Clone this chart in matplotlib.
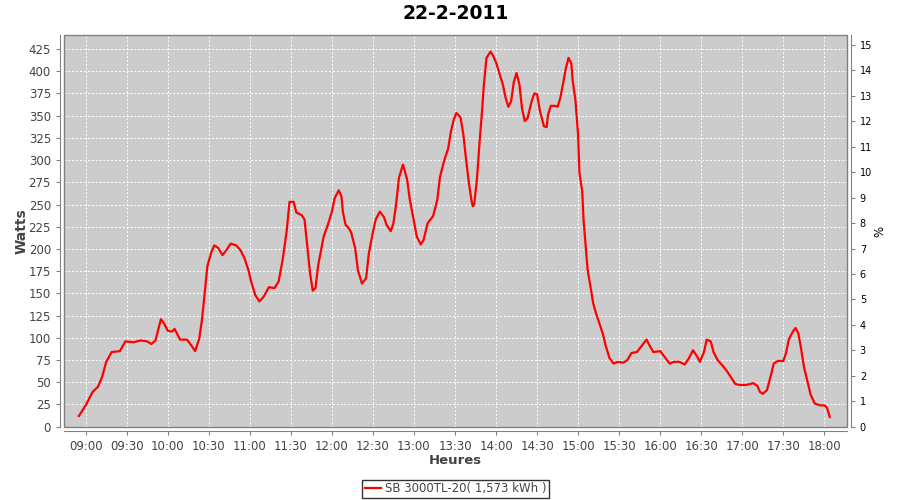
import pandas as pd
import matplotlib
matplotlib.use('Agg')
import matplotlib.pyplot as plt
import matplotlib.dates as mdates
from matplotlib.patches import Rectangle

# production readings for the day
day = '2011-02-22'
times = [
    '08:55', '09:00', '09:05', '09:09', '09:12', '09:15', '09:19', '09:25',
    '09:29', '09:35', '09:40', '09:45', '09:48', '09:51', '09:53', '09:55',
    '09:57', '10:00', '10:03', '10:05', '10:09', '10:14', '10:17', '10:20',
    '10:23', '10:25', '10:27', '10:29', '10:32', '10:34', '10:37', '10:40',
    '10:43', '10:46', '10:50', '10:53', '10:56', '10:59', '11:01', '11:04',
    '11:07', '11:10', '11:14', '11:18', '11:21', '11:24', '11:27', '11:29',
    '11:32', '11:34', '11:38', '11:40', '11:42', '11:44', '11:46', '11:48',
    '11:50', '11:54', '11:57', '12:00', '12:02', '12:05', '12:07', '12:08',
    '12:10', '12:12', '12:14', '12:17', '12:19', '12:22', '12:25', '12:27',
    '12:30', '12:32', '12:35', '12:38', '12:40', '12:43', '12:45', '12:47',
    '12:49', '12:52', '12:55', '12:57', '13:00', '13:02', '13:05', '13:07',
    '13:10', '13:14', '13:17', '13:19', '13:22', '13:25', '13:27', '13:29',
    '13:31', '13:34', '13:36', '13:38', '13:40', '13:42', '13:43', '13:44',
    '13:46', '13:48', '13:50', '13:51', '13:53', '13:56', '13:58', '14:00',
    '14:02', '14:05', '14:07', '14:09', '14:11', '14:13', '14:15', '14:17',
    '14:19', '14:21', '14:23', '14:26', '14:28', '14:30', '14:32', '14:35',
    '14:37', '14:38', '14:40', '14:43', '14:45', '14:47', '14:49', '14:51',
    '14:53', '14:55', '14:56', '14:58', '15:00', '15:01', '15:03', '15:04',
    '15:06', '15:07', '15:09', '15:11', '15:13', '15:16', '15:18', '15:20',
    '15:23', '15:26', '15:29', '15:33', '15:36', '15:39', '15:43', '15:46',
    '15:50', '15:52', '15:55', '16:00', '16:04', '16:07', '16:10', '16:14',
    '16:18', '16:21', '16:24', '16:27', '16:29', '16:32', '16:34', '16:37',
    '16:39', '16:42', '16:46', '16:49', '16:52', '16:55', '16:58', '17:03',
    '17:08', '17:11', '17:13', '17:15', '17:18', '17:21', '17:23', '17:26',
    '17:30', '17:32', '17:34', '17:37', '17:39', '17:41', '17:43', '17:45',
    '17:48', '17:50', '17:53', '17:57', '18:00', '18:02', '18:04',
]
watts = [
    12, 24, 39, 45, 56, 73, 84, 85,
    96, 95, 97, 96, 93, 97, 109, 121,
    117, 108, 107, 110, 98, 98, 92, 85,
    99, 120, 150, 181, 197, 204, 201, 193,
    199, 206, 204, 199, 190, 176, 163, 148,
    141, 146, 157, 156, 163, 188, 221, 253,
    253, 241, 238, 233, 203, 173, 153, 156,
    182, 214, 227, 242, 257, 266, 259, 242,
    227, 224, 219, 201, 176, 161, 167, 195,
    219, 233, 242, 236, 227, 220, 229, 251,
    280, 295, 278, 255, 231, 214, 205, 210,
    229, 237, 255, 281, 299, 313, 332, 345,
    353, 348, 330, 302, 276, 255, 248, 250,
    278, 321, 360, 383, 415, 422, 417, 410,
    400, 385, 370, 360, 366, 388, 398, 386,
    358, 344, 347, 366, 375, 374, 356, 338,
    337, 351, 361, 361, 360, 370, 386, 403,
    415, 409, 390, 368, 328, 285, 265, 232,
    195, 176, 158, 139, 128, 114, 105, 92,
    77, 71, 73, 72, 75, 83, 84, 90,
    98, 92, 84, 85, 77, 71, 73, 73,
    70, 77, 86, 79, 73, 84, 98, 96,
    84, 75, 68, 62, 55, 48, 47, 47,
    49, 46, 39, 37, 41, 58, 71, 74,
    74, 83, 98, 107, 111, 105, 88, 68,
    49, 36, 26, 24, 24, 21, 11,
]
title = '22-2-2011'
series_label = 'SB 3000TL-20( 1,573 kWh )'
watt_ticks = list(range(0, 426, 25))
pct_ticks = list(range(0, 16))

GRAY = '#444444'
EDGE = '#808080'
OFFSET = 2.9  # points, the gap between plot area and axis lines


def main():
    stamps = pd.to_datetime([f'{day} {t}' for t in times])

    fig = plt.figure(figsize=(9, 5), dpi=100)
    ax = fig.add_axes([0.0711, 0.1466, 0.8697, 0.7828])
    ax.set_facecolor('#cccccc')

    ax.plot(stamps, watts, color='#ff0000', linewidth=1.6,
            solid_joinstyle='round', label=series_label, zorder=3)

    ax.set_xlim(pd.Timestamp(f'{day} 08:44:08'),
                pd.Timestamp(f'{day} 18:16:22'))
    ax.set_ylim(0, 440.4)
    ax.set_yticks(watt_ticks)
    ax.xaxis.set_major_locator(mdates.MinuteLocator(byminute=[0, 30]))
    ax.xaxis.set_major_formatter(mdates.DateFormatter('%H:%M'))

    ax.grid(True, color='white', linestyle=(0, (2, 2)), linewidth=0.7)
    ax.set_axisbelow(True)

    for side in ('left', 'bottom'):
        ax.spines[side].set_position(('outward', OFFSET))
        ax.spines[side].set_color(EDGE)
    ax.spines['top'].set_visible(False)
    ax.spines['right'].set_visible(False)
    ax.add_patch(Rectangle((0, 0), 1, 1, transform=ax.transAxes, fill=False,
                           edgecolor=EDGE, linewidth=1.0, zorder=4,
                           clip_on=False))

    ax.tick_params(axis='both', colors=EDGE, labelcolor=GRAY, labelsize=8.5,
                   length=3, width=0.8)
    ax.set_ylabel('Watts', fontsize=10, fontweight='bold', color=GRAY,
                  labelpad=0)
    ax.set_xlabel('Heures', fontsize=9.5, fontweight='bold', color=GRAY,
                  labelpad=1)
    ax.set_title(title, fontsize=13.5, fontweight='bold', pad=12)

    ax2 = ax.twinx()
    ax2.set_ylim(0, 15.38)
    ax2.set_yticks(pct_ticks)
    for side in ('left', 'top', 'bottom'):
        ax2.spines[side].set_visible(False)
    ax2.spines['right'].set_position(('outward', OFFSET))
    ax2.spines['right'].set_color(EDGE)
    ax2.tick_params(axis='y', colors=EDGE, labelcolor='black', labelsize=7,
                    length=3, width=0.8)
    ax2.set_ylabel('%', fontsize=8.5, color='black', labelpad=1)

    leg = ax.legend(loc='upper center', bbox_to_anchor=(0.5, -0.135),
                    frameon=True, fancybox=False, fontsize=8.5,
                    handlelength=1.4, handletextpad=0.3,
                    borderpad=0.25, borderaxespad=0)
    leg.get_frame().set_edgecolor('black')
    leg.get_frame().set_linewidth(1.0)
    for text in leg.get_texts():
        text.set_color(GRAY)

    fig.savefig('out.png', dpi=100, facecolor='white')


if __name__ == '__main__':
    main()
